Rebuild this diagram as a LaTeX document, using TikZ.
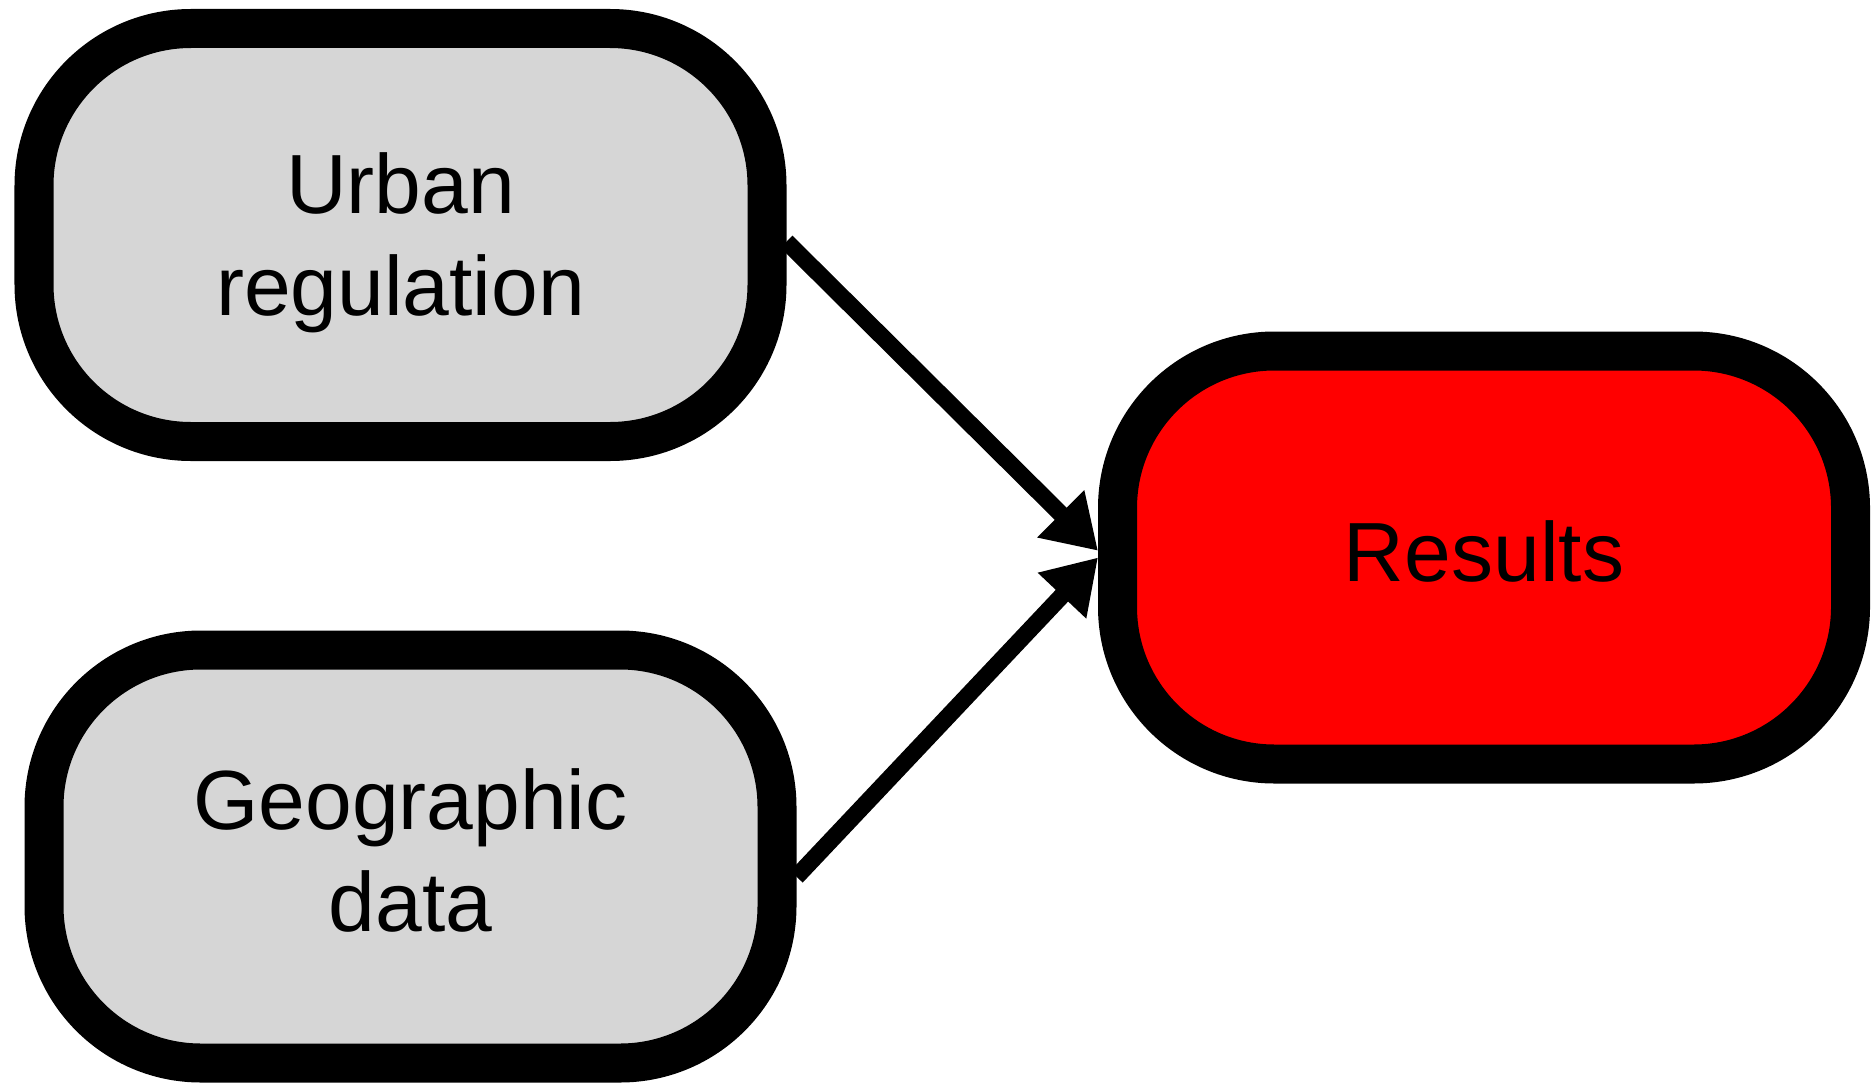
\documentclass[tikz,border=0pt]{standalone}
\usepackage{fontspec}
\setmainfont{Liberation Sans}
\usetikzlibrary{arrows.meta}
\begin{document}
\begin{tikzpicture}[>={Triangle[length=1.05cm,width=1.26cm]},
	box/.style={draw=black,line width=0.78cm,rounded corners=3.14cm,
		minimum width=14.66cm,minimum height=8.26cm,align=center,
		font=\fontsize{47.8}{58}\selectfont},
	link/.style={->,line width=0.34cm}]
\useasboundingbox (0,0) rectangle (37.48,-21.68);
\node (urban) at (8.01,-4.70) [box,fill=black!16,text height=3.58cm] {Urban\\regulation};
\node (geo) at (8.21,-17.13) [box,fill=black!16,text depth=0.24cm] {Geographic\\data};
\node (results) at (29.68,-11.15) [box,fill=red,text depth=0.26cm] {Results};
\draw[link] (urban.-1.5) -- (results.179);
\draw[link] (geo.-3.5) -- (results.180.5);
\end{tikzpicture}
\end{document}
